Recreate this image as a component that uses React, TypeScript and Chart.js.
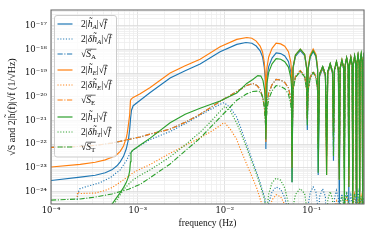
import React, { useEffect, useRef } from 'react';
import { Chart, registerables } from 'chart.js';

Chart.register(...registerables);

// ---------- axis ticks / labels ----------
const xTickValues = [1e-4, 1e-3, 1e-2, 1e-1];
const xTickLabels = ['10⁻⁴', '10⁻³', '10⁻²', '10⁻¹'];
const yTickValues = [1e-24, 1e-23, 1e-22, 1e-21, 1e-20, 1e-19, 1e-18, 1e-17];
const yTickLabels = ['10⁻²⁴', '10⁻²³', '10⁻²²', '10⁻²¹', '10⁻²⁰', '10⁻¹⁹', '10⁻¹⁸', '10⁻¹⁷'];
const X_MIN = 1e-4, X_MAX = 0.4, Y_MIN = 3.47e-25, Y_MAX = 4.7e-17;

// ---------- data (values given as log10 of the plotted amplitude) ----------
// shared high-frequency grid (Hz) used above the first transfer-function null
const fHigh = [
  0.0297,
  0.0305, 0.0320, 0.0350, 0.0390, 0.0440, 0.0490, 0.0540, 0.0575, 0.0587,
  0.0594,
  0.0610, 0.0650, 0.0740, 0.0830, 0.0875,
  0.0891,
  0.0910, 0.0960, 0.1040, 0.1120, 0.1170,
  0.1188,
  0.1230, 0.1337, 0.1440,
  0.1485,
  0.1530, 0.1634, 0.1740,
  0.1782,
  0.1830, 0.1930, 0.2030,
  0.2079,
  0.2125, 0.2228, 0.2330,
  0.2376,
  0.2420, 0.2525, 0.2630,
  0.2673,
  0.2720, 0.2822, 0.2925,
  0.2970,
  0.3015, 0.3119, 0.3220,
  0.3267,
  0.3310, 0.3416, 0.3520,
  0.3564,
  0.3610, 0.3713, 0.3815,
  0.3861,
  0.3905, 0.3960, 0.4000,
];

// 2|h_A| sqrt(f)  (blue solid)
const hA_f = [1.00e-4, 2.17e-4, 3.23e-4, 4.21e-4, 5.02e-4, 5.74e-4, 6.26e-4, 6.83e-4, 7.34e-4, 7.80e-4, 8.05e-4, 8.22e-4, 8.44e-4, 8.83e-4, 1.063e-3, 1.385e-3, 2.35e-3, 3.50e-3, 5.20e-3, 8.83e-3, 1.374e-2, 1.75e-2, 2.05e-2, 2.30e-2, 2.55e-2, 2.72e-2, 2.85e-2, 2.93e-2];
const hA_lg = [-23.53, -23.39, -23.31, -23.20, -23.08, -22.91, -22.74, -22.51, -22.20, -21.78, -21.36, -20.94, -20.56, -20.37, -20.14, -19.81, -19.20, -18.89, -18.61, -18.09, -17.78, -17.70, -17.73, -17.85, -18.05, -18.30, -18.75, -19.30];
const hA_high = [
  -22.2,
  -19.19, -18.72, -18.36, -18.14, -18.17, -18.27, -18.50, -18.94, -19.36,
  -23.6,
  -18.81, -18.29, -18.04, -18.26, -18.82,
  -21.4,
  -18.85, -18.33, -18.08, -18.30, -18.86,
  -23.3,
  -19.14, -18.80, -19.14,
  -22.2,
  -19.02, -18.68, -19.02,
  -22.7,
  -18.89, -18.55, -18.89,
  -25.0,
  -18.81, -18.47, -18.81,
  -23.0,
  -18.70, -18.36, -18.70,
  -24.5,
  -18.69, -18.35, -18.69,
  -23.5,
  -18.66, -18.32, -18.66,
  -25.0,
  -18.62, -18.28, -18.62,
  -24.0,
  -18.58, -18.24, -18.58,
  -25.0,
  -18.51, -18.24, -18.17,
];

// 2|delta h_A| sqrt(f)  (blue dotted)
const dhA_f = [2.00e-4, 2.04e-4, 2.15e-4, 2.59e-4, 3.69e-4, 4.80e-4, 6.26e-4, 7.34e-4, 8.16e-4, 8.83e-4, 1.063e-3, 1.385e-3, 2.35e-3, 3.50e-3, 5.20e-3, 6.78e-3, 8.83e-3, 9.63e-3, 1.00e-2, 1.151e-2, 1.374e-2, 1.50e-2, 1.79e-2, 1.95e-2, 2.33e-2, 2.55e-2, 2.76e-2, 2.90e-2];
const dhA_lg = [-24.35, -24.05, -23.88, -23.78, -23.62, -23.41, -23.08, -22.70, -22.37, -22.24, -22.05, -21.80, -21.46, -21.13, -20.77, -20.54, -20.31, -20.25, -20.27, -20.44, -20.86, -21.23, -22.03, -22.41, -23.20, -23.62, -24.04, -24.29];
const dhA_high = [
  -27,
  -25.2, -24.5, -24.0, -23.8, -23.9, -24.25, -24.9, -25.5, -26.0,
  -27,
  -25.47, -24.95, -24.7, -24.92, -25.48,
  -27,
  -24.57, -24.05, -23.8, -24.02, -24.58,
  -27,
  -24.22, -23.88, -24.22,
  -27,
  -24.94, -24.6, -24.94,
  -27,
  -24.29, -23.95, -24.29,
  -27,
  -24.44, -24.1, -24.44,
  -27,
  -24.34, -24.0, -24.34,
  -27,
  -24.49, -24.15, -24.49,
  -27,
  -24.54, -24.2, -24.54,
  -27,
  -24.34, -24.0, -24.34,
  -27,
  -24.64, -24.3, -24.64,
  -27,
  -24.54, -24.27, -24.2,
];

// sqrt(S_A) = sqrt(S_E)  (blue / orange dash-dot; identical curves)
const SA_f = [1.00e-4, 2.17e-4, 3.23e-4, 5.02e-4, 7.80e-4, 1.063e-3, 1.385e-3, 2.35e-3, 3.50e-3, 5.20e-3, 8.83e-3, 1.374e-2, 1.79e-2, 2.10e-2, 2.35e-2, 2.55e-2, 2.72e-2, 2.85e-2, 2.93e-2];
const SA_lg = [-22.13, -22.09, -22.05, -21.95, -21.80, -21.69, -21.57, -21.36, -21.07, -20.73, -20.19, -19.77, -19.52, -19.43, -19.52, -19.68, -20.00, -20.40, -21.00];
const SA_high = [
  -21.5,
  -20.31, -19.84, -19.48, -19.26, -19.29, -19.39, -19.62, -20.06, -20.48,
  -22.5,
  -19.66, -19.14, -18.89, -19.11, -19.67,
  -21.0,
  -19.69, -19.17, -18.92, -19.14, -19.70,
  -22.0,
  -19.04, -18.70, -19.04,
  -22.5,
  -18.94, -18.60, -18.94,
  -21.8,
  -18.87, -18.53, -18.87,
  -23.0,
  -18.79, -18.45, -18.79,
  -22.5,
  -18.72, -18.38, -18.72,
  -23.5,
  -18.66, -18.32, -18.66,
  -23.0,
  -18.62, -18.28, -18.62,
  -24.0,
  -18.58, -18.24, -18.58,
  -23.0,
  -18.54, -18.20, -18.54,
  -24.0,
  -18.49, -18.22, -18.15,
];
const SE_f = SA_f;
const SE_lg = SA_lg;
const SE_high = SA_high;

// 2|h_E| sqrt(f)  (orange solid)
const hE_f = [1.00e-4, 2.17e-4, 3.23e-4, 4.21e-4, 5.02e-4, 5.74e-4, 6.26e-4, 6.83e-4, 7.34e-4, 7.54e-4, 7.80e-4, 8.05e-4, 8.22e-4, 8.44e-4, 8.83e-4, 1.063e-3, 1.385e-3, 2.35e-3, 3.50e-3, 5.20e-3, 8.83e-3, 1.374e-2, 1.79e-2, 2.05e-2, 2.30e-2, 2.55e-2, 2.72e-2, 2.85e-2, 2.93e-2];
const hE_lg = [-22.96, -22.85, -22.76, -22.66, -22.55, -22.43, -22.30, -22.07, -21.74, -21.53, -21.15, -20.73, -20.14, -20.08, -20.02, -19.87, -19.60, -18.99, -18.68, -18.41, -17.88, -17.57, -17.49, -17.52, -17.64, -17.85, -18.10, -18.55, -19.10];
const hE_high = [
  -21.9,
  -18.78, -18.31, -17.95, -17.73, -17.76, -17.86, -18.09, -18.53, -18.95,
  -23.0,
  -18.75, -18.23, -17.98, -18.20, -18.76,
  -20.9,
  -18.75, -18.23, -17.98, -18.20, -18.76,
  -21.6,
  -19.10, -18.76, -19.10,
  -23.3,
  -18.98, -18.64, -18.98,
  -21.5,
  -18.85, -18.51, -18.85,
  -23.5,
  -18.77, -18.43, -18.77,
  -23.0,
  -18.68, -18.34, -18.68,
  -23.8,
  -18.68, -18.34, -18.68,
  -25.0,
  -18.64, -18.30, -18.64,
  -24.0,
  -18.60, -18.26, -18.60,
  -25.0,
  -18.56, -18.22, -18.56,
  -25.0,
  -18.49, -18.22, -18.15,
];

// 2|delta h_E| sqrt(f)  (orange dotted)
const dhE_f = [2.00e-4, 2.02e-4, 2.17e-4, 3.23e-4, 4.21e-4, 5.02e-4, 6.26e-4, 7.80e-4, 8.83e-4, 1.063e-3, 1.385e-3, 2.35e-3, 3.50e-3, 5.20e-3, 6.78e-3, 8.83e-3, 9.63e-3, 1.00e-2, 1.151e-2, 1.374e-2, 1.50e-2, 1.79e-2, 1.95e-2, 2.33e-2, 2.55e-2, 2.76e-2];
const dhE_lg = [-24.22, -24.02, -24.08, -24.06, -23.95, -23.83, -23.60, -23.35, -23.20, -23.05, -22.85, -22.38, -22.05, -21.72, -21.49, -21.21, -21.10, -21.10, -21.35, -21.80, -22.18, -22.85, -23.16, -23.85, -24.30, -24.70];
const dhE_high = [
  -27,
  -25.5, -24.85, -24.35, -24.13, -24.22, -24.55, -25.2, -25.8, -26.3,
  -27,
  -25.77, -25.25, -25.0, -25.22, -25.78,
  -27,
  -25.67, -25.15, -24.9, -25.12, -25.68,
  -27,
  -25.04, -24.7, -25.04,
  -27,
  -24.84, -24.5, -24.84,
  -27,
  -24.74, -24.4, -24.74,
  -27,
  -24.94, -24.6, -24.94,
  -27,
  -24.54, -24.2, -24.54,
  -27,
  -24.84, -24.5, -24.84,
  -27,
  -24.44, -24.1, -24.44,
  -27,
  -24.64, -24.3, -24.64,
  -27,
  -24.54, -24.2, -24.54,
  -27,
  -24.74, -24.47, -24.4,
];

// 2|h_T| sqrt(f)  (green solid)
const hT_f = [1.00e-4, 3.23e-4, 4.21e-4, 5.02e-4, 5.48e-4, 6.26e-4, 6.83e-4, 7.34e-4, 7.80e-4, 8.05e-4, 8.22e-4, 8.33e-4, 8.49e-4, 8.83e-4, 1.063e-3, 1.385e-3, 2.35e-3, 3.50e-3, 5.20e-3, 8.83e-3, 1.374e-2, 1.79e-2, 2.10e-2, 2.40e-2, 2.60e-2, 2.75e-2, 2.87e-2, 2.93e-2];
const hT_lg = [-26.5, -25.3, -24.8, -24.54, -24.34, -24.04, -23.83, -23.62, -23.37, -23.12, -22.74, -22.36, -22.30, -22.24, -22.03, -21.74, -21.09, -20.73, -20.48, -20.17, -19.83, -19.43, -19.26, -19.10, -19.12, -19.30, -19.70, -20.30];
const hT_high = [
  -21.8,
  -19.43, -18.96, -18.60, -18.38, -18.41, -18.51, -18.74, -19.18, -19.60,
  -23.6,
  -18.75, -18.23, -17.98, -18.20, -18.76,
  -20.9,
  -18.82, -18.30, -18.05, -18.27, -18.83,
  -23.2,
  -19.06, -18.72, -19.06,
  -23.3,
  -18.93, -18.59, -18.93,
  -21.6,
  -18.83, -18.49, -18.83,
  -23.5,
  -18.77, -18.43, -18.77,
  -25.0,
  -18.68, -18.34, -18.68,
  -23.8,
  -18.66, -18.32, -18.66,
  -25.0,
  -18.62, -18.28, -18.62,
  -24.2,
  -18.58, -18.24, -18.58,
  -25.0,
  -18.54, -18.20, -18.54,
  -25.0,
  -18.47, -18.20, -18.13,
];

// 2|delta h_T| sqrt(f)  (green dotted)
const dhT_f = [4.80e-4, 5.48e-4, 6.26e-4, 6.83e-4, 7.80e-4, 8.83e-4, 1.063e-3, 1.385e-3, 2.35e-3, 3.50e-3, 5.20e-3, 6.78e-3, 8.83e-3, 1.00e-2, 1.151e-2, 1.374e-2, 1.50e-2, 1.79e-2, 1.95e-2, 2.33e-2, 2.55e-2, 2.76e-2, 2.90e-2];
const dhT_lg = [-25.0, -24.46, -24.13, -23.92, -23.69, -23.50, -23.31, -23.08, -22.53, -22.03, -21.49, -21.07, -20.61, -20.40, -20.57, -21.11, -21.44, -22.16, -22.53, -23.29, -23.71, -24.13, -24.38];
const dhT_high = [
  -27,
  -24.8, -24.1, -23.62, -23.43, -23.52, -23.85, -24.5, -25.2, -25.8,
  -27,
  -24.64, -24.12, -23.87, -24.09, -24.65,
  -27,
  -25.47, -24.95, -24.7, -24.92, -25.48,
  -27,
  -24.94, -24.6, -24.94,
  -27,
  -24.34, -24.0, -24.34,
  -27,
  -25.04, -24.7, -25.04,
  -27,
  -24.54, -24.2, -24.54,
  -27,
  -24.44, -24.1, -24.44,
  -27,
  -24.94, -24.6, -24.94,
  -27,
  -24.44, -24.1, -24.44,
  -27,
  -24.64, -24.3, -24.64,
  -27,
  -24.54, -24.2, -24.54,
  -27,
  -24.64, -24.37, -24.3,
];

// sqrt(S_T)  (green dash-dot)
const ST_f = [1.00e-4, 2.17e-4, 3.23e-4, 5.02e-4, 7.80e-4, 1.063e-3, 1.385e-3, 2.35e-3, 3.50e-3, 5.20e-3, 8.83e-3, 1.374e-2, 1.79e-2, 2.10e-2, 2.40e-2, 2.60e-2, 2.75e-2, 2.87e-2, 2.93e-2];
const ST_lg = [-24.36, -24.31, -24.23, -24.10, -23.90, -23.69, -23.41, -22.83, -22.28, -21.74, -20.86, -20.14, -19.87, -19.77, -19.75, -19.81, -20.05, -20.50, -21.00];
const ST_high = [
  -21.3,
  -20.57, -20.10, -19.74, -19.52, -19.55, -19.65, -19.88, -20.32, -20.74,
  -22.3,
  -19.70, -19.18, -18.93, -19.15, -19.71,
  -21.2,
  -19.74, -19.22, -18.97, -19.19, -19.75,
  -22.2,
  -19.06, -18.72, -19.06,
  -22.0,
  -18.95, -18.61, -18.95,
  -22.5,
  -18.87, -18.53, -18.87,
  -22.8,
  -18.79, -18.45, -18.79,
  -23.5,
  -18.70, -18.36, -18.70,
  -23.0,
  -18.64, -18.30, -18.64,
  -24.0,
  -18.60, -18.26, -18.60,
  -23.5,
  -18.56, -18.22, -18.56,
  -24.0,
  -18.52, -18.18, -18.52,
  -24.0,
  -18.47, -18.20, -18.13,
];

// ---------- styles ----------
const BLUE = '#1f77b4', ORANGE = '#ff7f0e', GREEN = '#2ca02c';
const SOLID: number[] = [];
const DOTTED = [1.1, 1.7];
const DASHDOT = [5.2, 1.6, 1.1, 1.6];
const FONT = '"Liberation Serif", "Times New Roman", serif';
const TICK_FONT = '"DejaVu Serif", serif';

function toPoints(f: number[], lg: number[], high: number[]) {
  const pts = f.map((x, i) => ({ x, y: Math.pow(10, lg[i]) }));
  return pts.concat(fHigh.map((x, i) => ({ x, y: Math.pow(10, high[i]) })));
}

type Seg = { t: string; sub?: boolean; it?: boolean; bar?: boolean };
const legendRows: { color: string; dash: number[]; segs: Seg[] }[] = [
  { color: BLUE, dash: SOLID, segs: [{ t: '2|' }, { t: 'h\u0303', it: true }, { t: 'A', sub: true, it: true }, { t: '|√' }, { t: 'f', it: true, bar: true }] },
  { color: BLUE, dash: DOTTED, segs: [{ t: '2|' }, { t: 'δh\u0303', it: true }, { t: 'A', sub: true, it: true }, { t: '|√' }, { t: 'f', it: true, bar: true }] },
  { color: BLUE, dash: DASHDOT, segs: [{ t: '√' }, { t: 'S', it: true, bar: true }, { t: 'A', sub: true, bar: true }] },
  { color: ORANGE, dash: SOLID, segs: [{ t: '2|' }, { t: 'h\u0303', it: true }, { t: 'E', sub: true, it: true }, { t: '|√' }, { t: 'f', it: true, bar: true }] },
  { color: ORANGE, dash: DOTTED, segs: [{ t: '2|' }, { t: 'δh\u0303', it: true }, { t: 'E', sub: true, it: true }, { t: '|√' }, { t: 'f', it: true, bar: true }] },
  { color: ORANGE, dash: DASHDOT, segs: [{ t: '√' }, { t: 'S', it: true, bar: true }, { t: 'E', sub: true, bar: true }] },
  { color: GREEN, dash: SOLID, segs: [{ t: '2|' }, { t: 'h\u0303', it: true }, { t: 'T', sub: true, it: true }, { t: '|√' }, { t: 'f', it: true, bar: true }] },
  { color: GREEN, dash: DOTTED, segs: [{ t: '2|' }, { t: 'δh\u0303', it: true }, { t: 'T', sub: true, it: true }, { t: '|√' }, { t: 'f', it: true, bar: true }] },
  { color: GREEN, dash: DASHDOT, segs: [{ t: '√' }, { t: 'S', it: true, bar: true }, { t: 'T', sub: true, bar: true }] },
];
const legendY = [24, 39, 54, 70, 85, 100, 117, 132, 147];

const framePlugin = {
  id: 'frame',
  afterDatasetsDraw(chart: any) {
    const { ctx, chartArea: a } = chart;
    ctx.save();
    ctx.strokeStyle = '#6e6e6e';
    ctx.lineWidth = 1.1;
    ctx.strokeRect(a.left, a.top, a.right - a.left, a.bottom - a.top);
    ctx.restore();
  },
};

const legendPlugin = {
  id: 'mplLegend',
  afterDraw(chart: any) {
    const ctx = chart.ctx as CanvasRenderingContext2D;
    ctx.save();
    ctx.beginPath();
    (ctx as any).roundRect(54.5, 15.5, 62, 141.5, 2.5);
    ctx.fillStyle = 'rgba(255,255,255,0.8)';
    ctx.fill();
    ctx.strokeStyle = '#cccccc';
    ctx.lineWidth = 1;
    ctx.stroke();
    legendRows.forEach((row, i) => {
      const cy = legendY[i];
      ctx.beginPath();
      ctx.setLineDash(row.dash);
      ctx.strokeStyle = row.color;
      ctx.lineWidth = 1.2;
      ctx.moveTo(57.5, cy);
      ctx.lineTo(72.5, cy);
      ctx.stroke();
      ctx.setLineDash([]);
      let x = 81;
      const base = cy + 3.2;
      ctx.fillStyle = '#111';
      ctx.textBaseline = 'alphabetic';
      ctx.textAlign = 'left';
      for (const s of row.segs) {
        const size = s.sub ? 7 : 9.6;
        ctx.font = `${s.it ? 'italic ' : ''}${size}px ${FONT}`;
        const y = s.sub ? base + 2 : base;
        ctx.fillText(s.t, x, y);
        const w = ctx.measureText(s.t).width;
        if (s.bar) {
          ctx.beginPath();
          ctx.strokeStyle = '#111';
          ctx.lineWidth = 0.6;
          ctx.moveTo(x - 0.3, base - 8.0);
          ctx.lineTo(x + w + 0.3, base - 8.0);
          ctx.stroke();
        }
        x += w;
      }
    });
    ctx.restore();
  },
};

function logTicks(min: number, max: number) {
  const out: { value: number; major: boolean }[] = [];
  for (let e = Math.floor(Math.log10(min)); e <= Math.ceil(Math.log10(max)); e++) {
    for (let m = 1; m < 10; m++) {
      const v = m * Math.pow(10, e);
      if (v >= min * 0.999 && v <= max * 1.001) out.push({ value: v, major: m === 1 });
    }
  }
  return out;
}

function labelFor(v: number, values: number[], labels: string[]) {
  const i = values.findIndex((t) => Math.abs(t - v) / t < 1e-6);
  return i >= 0 ? labels[i] : '';
}

const gridColor = (c: any) => (c.tick && c.tick.major ? '#dadada' : '#eeeeee');

export default function App() {
  const ref = useRef<HTMLCanvasElement>(null);
  useEffect(() => {
    document.body.style.margin = '0';
    const series = [
      { label: '2|h̃A|√f', data: toPoints(hA_f, hA_lg, hA_high), color: BLUE, dash: SOLID },
      { label: '2|δh̃A|√f', data: toPoints(dhA_f, dhA_lg, dhA_high), color: BLUE, dash: DOTTED },
      { label: '√SA', data: toPoints(SA_f, SA_lg, SA_high), color: BLUE, dash: DASHDOT },
      { label: '2|h̃E|√f', data: toPoints(hE_f, hE_lg, hE_high), color: ORANGE, dash: SOLID },
      { label: '2|δh̃E|√f', data: toPoints(dhE_f, dhE_lg, dhE_high), color: ORANGE, dash: DOTTED },
      { label: '√SE', data: toPoints(SE_f, SE_lg, SE_high), color: ORANGE, dash: DASHDOT },
      { label: '2|h̃T|√f', data: toPoints(hT_f, hT_lg, hT_high), color: GREEN, dash: SOLID },
      { label: '2|δh̃T|√f', data: toPoints(dhT_f, dhT_lg, dhT_high), color: GREEN, dash: DOTTED },
      { label: '√ST', data: toPoints(ST_f, ST_lg, ST_high), color: GREEN, dash: DASHDOT },
    ];
    const chart = new Chart(ref.current as HTMLCanvasElement, {
      type: 'line',
      data: {
        datasets: series.map((s, i) => ({
          label: s.label,
          data: s.data,
          borderColor: s.color,
          backgroundColor: s.color,
          borderWidth: 1.15,
          borderDash: s.dash,
          pointRadius: 0,
          fill: false,
          tension: 0,
          order: series.length - i,
        })),
      },
      options: {
        animation: false,
        responsive: false,
        maintainAspectRatio: false,
        devicePixelRatio: 1,
        events: [],
        layout: { padding: { top: 10, right: 10, left: 0, bottom: 0 } },
        plugins: { legend: { display: false }, tooltip: { enabled: false } },
        scales: {
          x: {
            type: 'logarithmic',
            min: X_MIN,
            max: X_MAX,
            afterBuildTicks: (axis: any) => { axis.ticks = logTicks(X_MIN, X_MAX); },
            afterFit: (axis: any) => { axis.height = 36; },
            ticks: {
              autoSkip: false,
              maxRotation: 0,
              minRotation: 0,
              padding: 2,
              color: '#111',
              font: { family: TICK_FONT, size: 8.5 },
              callback: (v: any) => labelFor(Number(v), xTickValues, xTickLabels),
            },
            grid: { color: gridColor, lineWidth: 0.8, drawTicks: false },
            border: { display: false },
            title: {
              display: true,
              text: 'frequency (Hz)',
              color: '#111',
              font: { family: FONT, size: 9.5 },
              padding: { top: 0, bottom: 11 },
            },
          },
          y: {
            type: 'logarithmic',
            min: Y_MIN,
            max: Y_MAX,
            afterBuildTicks: (axis: any) => { axis.ticks = logTicks(Y_MIN, Y_MAX); },
            afterFit: (axis: any) => { axis.width = 51; },
            ticks: {
              autoSkip: false,
              padding: 4,
              color: '#111',
              font: { family: TICK_FONT, size: 8.5 },
              callback: (v: any) => labelFor(Number(v), yTickValues, yTickLabels),
            },
            grid: { color: gridColor, lineWidth: 0.8, drawTicks: false },
            border: { display: false },
            title: {
              display: true,
              text: '√S and 2|h̃(f)|√f (1/√Hz)',
              color: '#111',
              font: { family: FONT, size: 10 },
              padding: { top: 6, bottom: 0 },
            },
          },
        },
      } as any,
      plugins: [framePlugin, legendPlugin],
    });
    return () => chart.destroy();
  }, []);
  return (
    <div style={{ position: 'fixed', left: 0, top: 0, width: 374, height: 240, background: '#fff' }}>
      <canvas ref={ref} width={374} height={240} style={{ width: 374, height: 240, display: 'block' }} />
    </div>
  );
}
